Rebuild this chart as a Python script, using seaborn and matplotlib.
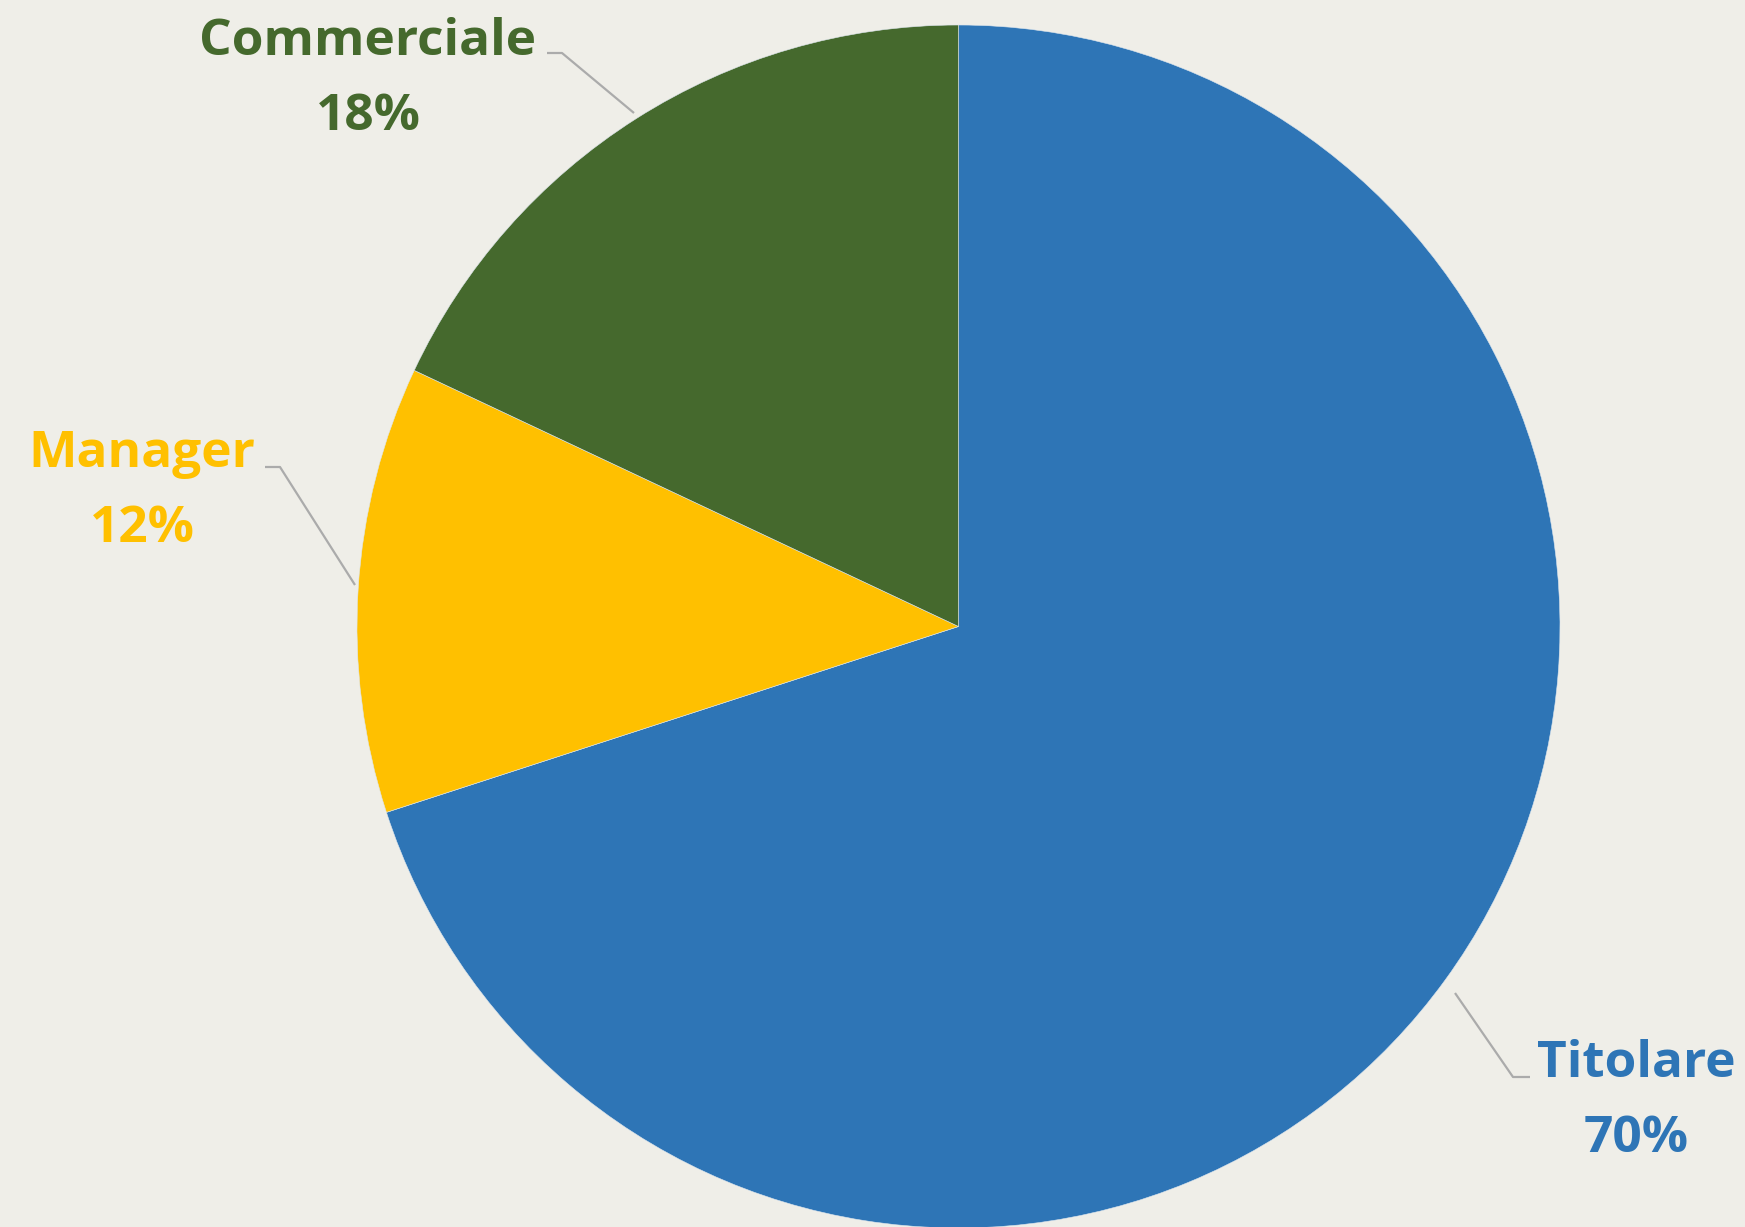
import matplotlib
matplotlib.use("Agg")
import matplotlib.pyplot as plt
import seaborn as sns

# Role breakdown (percent), drawn clockwise from 12 o'clock
roles = ["Titolare", "Manager", "Commerciale"]
shares = [70, 12, 18]
colors = ["#2E75B6", "#FFC000", "#45692D"]

# Label anchor positions (canvas pixels, y measured downward) and leader lines
label_xy = [(1636, 1077), (142, 467), (368, 55)]
leader_px = [
    [(1530, 1077), (1513, 1077), (1455, 993)],
    [(265, 467), (280, 467), (355, 585)],
    [(547, 53), (562, 53), (634, 113)],
]

BG = "#EFEEE8"
W, H = 1745, 1227

sns.set_style("white")
plt.rcParams["font.family"] = ["Open Sans", "DejaVu Sans"]

fig = plt.figure(figsize=(W / 100, H / 100), dpi=100, facecolor=BG)
ax = fig.add_axes([0, 0, 1, 1])
ax.set_facecolor(BG)

cx, cy, r = 958.5, H - 626.5, 601.5
ax.pie(shares, colors=colors, startangle=90, counterclock=False,
       center=(cx, cy), radius=r, frame=True,
       wedgeprops=dict(edgecolor="#DDE6EE", linewidth=0.4))
ax.set_xlim(0, W)
ax.set_ylim(0, H)
ax.set_aspect("equal")
ax.axis("off")

for name, val, col, (lx, ly), pts in zip(roles, shares, colors, label_xy, leader_px):
    xs = [p[0] for p in pts]
    ys = [H - p[1] for p in pts]
    ax.plot(xs, ys, color="#ABABAB", lw=1.6, solid_capstyle="butt")
    ax.text(lx, H - ly, name, ha="center", va="baseline", color=col,
            fontsize=37, fontweight="bold")
    ax.text(lx, H - ly - 75, f"{val}%", ha="center", va="baseline", color=col,
            fontsize=37, fontweight="bold")

fig.savefig("out.png", dpi=100, facecolor=BG)
